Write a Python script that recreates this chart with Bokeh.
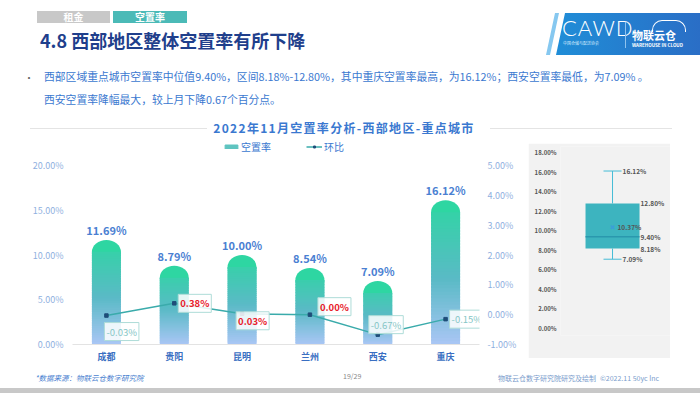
import numpy as np
from bokeh.plotting import figure
from bokeh.models import (Range1d, LinearAxis, FixedTicker, Div,
                          Legend, LegendItem, CustomJSTickFormatter, FactorRange)
from bokeh.layouts import column, row
from bokeh.core.properties import value
from bokeh.embed import file_html
from bokeh.resources import INLINE

# ---------------- data ----------------
cities = ["成都", "贵阳", "昆明", "兰州", "西安", "重庆"]
vacancy = [11.69, 8.79, 10.00, 8.54, 7.09, 16.12]
mom = [-0.03, 0.38, 0.03, 0.00, -0.67, -0.15]
left_ticks = [0, 5, 10, 15, 20]
right_ticks = [-1, 0, 1, 2, 3, 4, 5]
box_ticks = [0, 2, 4, 6, 8, 10, 12, 14, 16, 18]
box_min, box_q1, box_median, box_mean, box_q3, box_max = 7.09, 8.18, 9.40, 10.37, 12.80, 16.12

# label placement (screen px, styling only)
lbl_dx = [-2, 4, -6, 8, -9, 4]
lbl_dy = [16, 0, 7, -8, -10, 0]

FONT = "Noto Sans CJK SC"
BLUE = "#3a78d0"

# ---------------- header ----------------
para1 = "西部区域重点城市空置率中位值9.40%，区间8.18%-12.80%，其中重庆空置率最高，为16.12%；西安空置率最低，为7.09% 。"
para2 = "西安空置率降幅最大，较上月下降0.67个百分点。"
chart_title = "2022年11月空置率分析-西部地区-重点城市"

header_html = f"""
<div style="position:relative;width:700px;height:137px;overflow:hidden;font-family:'{FONT}',sans-serif;">
  <div style="position:absolute;left:37px;top:11px;width:73px;height:12px;background:#c8c8c8;color:#fff;font-size:10px;font-weight:bold;line-height:12px;text-align:center;">租金</div>
  <div style="position:absolute;left:113px;top:11px;width:74px;height:12px;background:#4bbab7;color:#fff;font-size:10px;font-weight:bold;line-height:12px;text-align:center;">空置率</div>
  <div style="position:absolute;left:40px;top:28px;font-size:18px;font-weight:bold;color:#1f3f8c;line-height:24px;white-space:nowrap;">4.8 西部地区整体空置率有所下降</div>
  <div style="position:absolute;left:548px;top:13px;width:152px;height:42px;background:linear-gradient(90deg,#1f8fd8,#2a6ec6);clip-path:polygon(8px 100%,17px 0,100% 0,100% 100%);"></div>
  <div style="position:absolute;left:546px;top:13px;width:20px;height:42px;background:#86c8f0;clip-path:polygon(0 100%,9px 0,13px 0,4px 100%);"></div>
  <div style="position:absolute;left:562px;top:17px;color:#fff;font-family:'Lato',sans-serif;font-weight:300;font-size:22px;letter-spacing:1px;line-height:22px;">CAWD</div>
  <div style="position:absolute;left:563px;top:41px;color:#d8ecff;font-size:4px;line-height:5px;white-space:nowrap;">中国仓储与配送协会</div>
  <div style="position:absolute;left:625px;top:22px;width:1px;height:26px;background:#8fc3ee;"></div>
  <div style="position:absolute;left:652px;top:20px;width:34px;height:12px;border:1.5px solid #fff;border-bottom:none;border-radius:10px 10px 0 0;"></div>
  <div style="position:absolute;left:632px;top:29px;color:#fff;font-size:11px;font-weight:bold;line-height:12px;white-space:nowrap;">物联云仓</div>
  <div style="position:absolute;left:632px;top:43px;color:#fff;font-size:4.5px;font-weight:bold;line-height:5px;white-space:nowrap;">WAREHOUSE IN CLOUD</div>
  <div style="position:absolute;left:24px;top:71px;font-size:10px;color:#666;line-height:14px;">•</div>
  <div style="position:absolute;left:44px;top:69px;font-size:10.8px;color:{BLUE};line-height:14px;white-space:nowrap;">{para1}</div>
  <div style="position:absolute;left:44px;top:92px;font-size:10.8px;color:{BLUE};line-height:14px;white-space:nowrap;">{para2}</div>
  <div style="position:absolute;left:30px;top:128px;width:177px;height:1px;background:#e4e4e4;"></div>
  <div style="position:absolute;left:490px;top:128px;width:182px;height:1px;background:#e4e4e4;"></div>
  <div style="position:absolute;left:203px;top:120px;width:282px;text-align:center;font-size:12px;font-weight:bold;letter-spacing:1.3px;color:{BLUE};line-height:16px;white-space:nowrap;">{chart_title}</div>
</div>
"""
header = Div(text=header_html, width=700, height=137, margin=0)

# ---------------- bar + line chart ----------------
FRAME_H = 204
px_per_pct = 179 / 20.0          # left axis scale (px per %)
px_per_pct_r = 179 / 6.0         # right axis scale
left_top = FRAME_H / px_per_pct
right_top = -1 + FRAME_H / px_per_pct_r
px_per_cat = 407 / 6.0

p = figure(x_range=FactorRange(factors=cities), y_range=Range1d(0, left_top),
           width=528, height=230, min_border_left=72, min_border_right=49,
           min_border_top=3, min_border_bottom=23, output_backend="svg",
           toolbar_location=None, outline_line_color=None, margin=0)
p.grid.visible = False
p.extra_y_ranges = {"r": Range1d(-1, right_top)}

la = p.left[0]
la.ticker = FixedTicker(ticks=left_ticks)
la.formatter = CustomJSTickFormatter(code="return tick.toFixed(2) + '%';")
ra = LinearAxis(y_range_name="r", ticker=FixedTicker(ticks=right_ticks),
                formatter=CustomJSTickFormatter(code="return tick.toFixed(2) + '%';"))
p.add_layout(ra, "right")
xa = p.below[0]
for ax in (la, ra, xa):
    ax.major_tick_line_color = None
    ax.minor_tick_line_color = None
    ax.major_tick_out = 0
    ax.minor_tick_out = 0
    ax.major_label_text_font = FONT
    ax.major_label_text_font_size = "9px"
for ax in (la, ra):
    ax.axis_line_color = None
    ax.major_label_text_color = "#8fb0e0"
la.major_label_standoff = 9
ra.major_label_standoff = 8
xa.axis_line_color = "#e3e3e3"
xa.major_label_text_color = "#3a6fc2"
xa.major_label_text_font_style = "bold"
xa.major_label_standoff = 5

STOPS = [(0.0, (170, 198, 245)), (0.45, (90, 186, 198)), (1.0, (46, 214, 162))]


def grad(f):
    f = min(max(f, 0.0), 1.0)
    for (t0, c0), (t1, c1) in zip(STOPS[:-1], STOPS[1:]):
        if f <= t1:
            u = (f - t0) / (t1 - t0)
            c = [int(round(a + (b - a) * u)) for a, b in zip(c0, c1)]
            return "#%02x%02x%02x" % tuple(c)
    return "#%02x%02x%02x" % STOPS[-1][1]


BAR_PX = 29
CAP_PX = 12
bar_w = BAR_PX / px_per_cat
cap_d = CAP_PX / px_per_pct
N = 40
sx, sb, st, sc = [], [], [], []
cap_y, cap_c = [], []
for c, v in zip(cities, vacancy):
    body = v - cap_d
    edges = np.linspace(0, body, N + 1)
    step = body / N
    for i in range(N):
        sx.append(c)
        sb.append(edges[i])
        st.append(edges[i + 1] + (0.7 * step if i < N - 1 else 0.0))
        sc.append(grad(((edges[i] + edges[i + 1]) / 2) / v))
    cap_y.append(body)
    cap_c.append(grad(1.0))

p.ellipse(x=cities, y=cap_y, width=BAR_PX, height=2 * CAP_PX, width_units="screen",
          height_units="screen", fill_color=cap_c, line_color=None)
p.vbar(x=sx, bottom=sb, top=st, width=bar_w, fill_color=sc, line_color=None)

p.text(x=cities, y=vacancy, text=[f"{v:.2f}%" for v in vacancy], text_align="center",
       text_baseline="bottom", y_offset=-2, text_font=value(FONT), text_font_size="11px",
       text_font_style="bold", text_color="#4a80d2")

line_r = p.line(x=cities, y=mom, y_range_name="r", line_color="#3aabab", line_width=1.5)
sc_r = p.scatter(x=cities, y=mom, y_range_name="r", marker="square", size=3.5,
                 fill_color="#1f4e79", line_color="#1f4e79")

p.text(x=cities, y=mom, text=[f"{m:.2f}%" for m in mom], y_range_name="r",
       x_offset=lbl_dx, y_offset=lbl_dy, text_align="left", text_baseline="middle",
       text_font=value(FONT), text_font_size="9.5px",
       text_color=["#e8202a" if m >= 0 else "#86c6c6" for m in mom],
       text_font_style=["bold" if m >= 0 else "normal" for m in mom],
       background_fill_color="white", background_fill_alpha=0.85,
       border_line_color="#aedcd8", border_line_width=1, padding=2)

# zero-height bar used only as the legend swatch for the bar series
leg_bar = p.vbar(x=[cities[0]], bottom=[0], top=[0], width=0.01,
                 fill_color="#5fc4c0", line_color="#5fc4c0")
legend = Legend(items=[LegendItem(label="空置率", renderers=[leg_bar]),
                       LegendItem(label="环比", renderers=[line_r, sc_r])],
                orientation="horizontal", location=(151, 190), glyph_width=16,
                glyph_height=5, label_standoff=2, spacing=35, padding=0, margin=0,
                label_text_font=FONT, label_text_font_size="10px", label_text_color=BLUE,
                border_line_color=None, background_fill_alpha=0, label_height=12)
p.add_layout(legend)

# ---------------- box plot ----------------
b = figure(width=142, height=215, x_range=Range1d(0, 1), y_range=Range1d(-0.72, 18.63),
           min_border_left=32, min_border_right=0, min_border_top=0, min_border_bottom=0,
           x_axis_location=None, background_fill_color="#f2f2f2", border_fill_color="#f2f2f2",
           outline_line_color=None, output_backend="svg", toolbar_location=None,
           margin=(6, 30, 9, 0))
b.grid.visible = False
ba = b.left[0]
ba.ticker = FixedTicker(ticks=box_ticks)
ba.formatter = CustomJSTickFormatter(code="return tick.toFixed(2) + '%';")
ba.axis_line_color = None
ba.major_tick_line_color = None
ba.minor_tick_line_color = None
ba.major_tick_out = 0
ba.minor_tick_out = 0
ba.major_label_text_color = "#555555"
ba.major_label_text_font = FONT
ba.major_label_text_font_size = "6px"
ba.major_label_text_font_style = "bold"
ba.major_label_standoff = 4

cx = 0.473
bw = 0.491
capw = 0.164
b.segment(x0=[cx, cx], y0=[box_min, box_q3], x1=[cx, cx], y1=[box_q1, box_max],
          line_color="#45bcd6", line_width=1)
b.segment(x0=[cx - capw / 2] * 2, y0=[box_min, box_max], x1=[cx + capw / 2] * 2,
          y1=[box_min, box_max], line_color="#45bcd6", line_width=1)
b.quad(left=[cx - bw / 2], right=[cx + bw / 2], bottom=[box_q1], top=[box_q3],
       fill_color="#3db4bf", line_color=None)
b.segment(x0=[cx - bw / 2], y0=[box_median], x1=[cx + bw / 2], y1=[box_median],
          line_color="#2a98ae", line_width=1.5)
b.scatter(x=[cx], y=[box_mean], marker="x", size=5, line_color="#3b9fd8", line_width=1.5)

bl_x = [cx + capw / 2, cx + bw / 2, cx, cx + bw / 2, cx + bw / 2, cx + capw / 2]
bl_y = [box_max, box_q3, box_mean, box_median, box_q1, box_min]
bl_off = [1, 1, 5, 1, 1, 1]
b.text(x=bl_x, y=bl_y, text=[f"{v:.2f}%" for v in bl_y], x_offset=bl_off, text_align="left",
       text_baseline="middle", text_font=value(FONT), text_font_size="6.5px",
       text_font_style="bold", text_color="#555555")

# ---------------- footer ----------------
footer_html = f"""
<div style="position:relative;width:700px;height:26px;overflow:hidden;font-family:'{FONT}',sans-serif;">
  <div style="position:absolute;left:35px;top:6px;font-size:7.5px;font-style:italic;color:#4a7fd0;line-height:10px;white-space:nowrap;">*数据来源：物联云仓数字研究院</div>
  <div style="position:absolute;left:343px;top:4px;font-size:7px;color:#888;line-height:10px;">19/29</div>
  <div style="position:absolute;left:498px;top:6px;font-size:7px;color:#7a9ccc;line-height:10px;white-space:nowrap;">物联云仓数字研究院研究及绘制</div>
  <div style="position:absolute;left:600px;top:6px;font-size:7px;color:#7a9ccc;line-height:10px;white-space:nowrap;">©2022.11 50yc Inc</div>
  <div style="position:absolute;left:0;top:21px;width:700px;height:5px;background:#c8c8c8;"></div>
</div>
"""
footer = Div(text=footer_html, width=700, height=26, margin=0)

layout = column(header, row(p, b, margin=0, spacing=0), footer, margin=0, spacing=0)
open("out.html", "w").write(file_html(layout, INLINE))
